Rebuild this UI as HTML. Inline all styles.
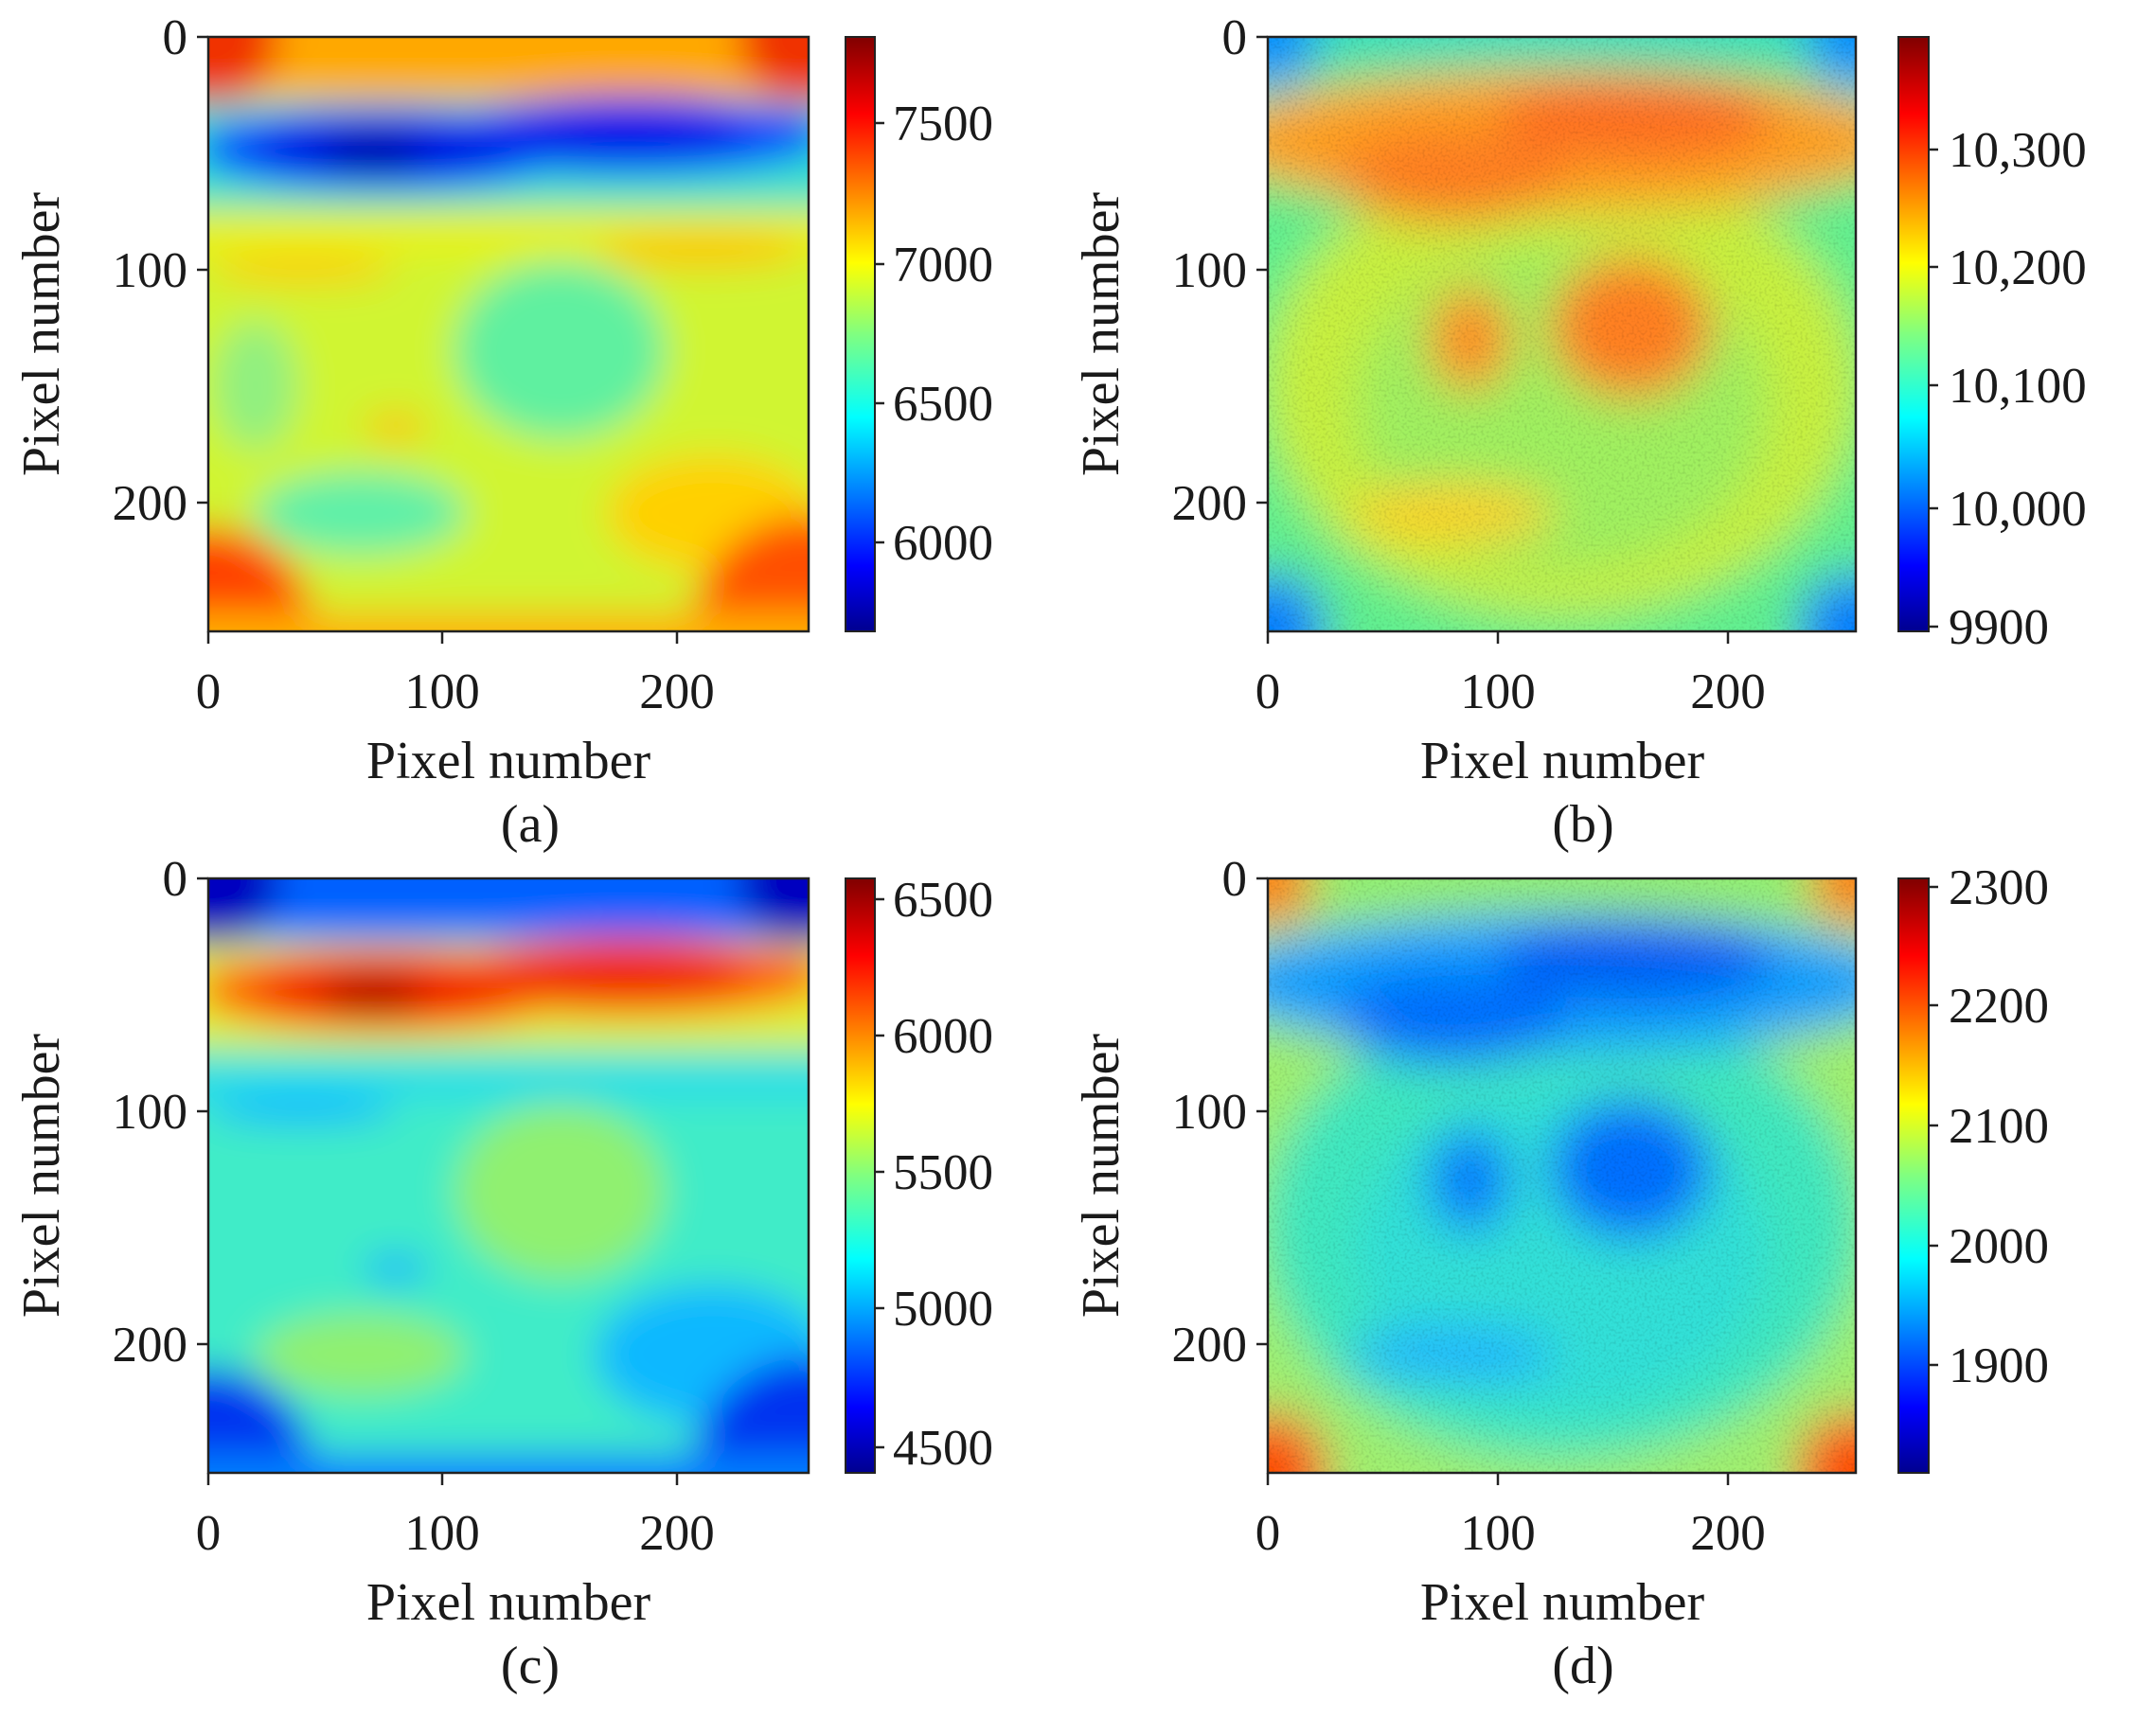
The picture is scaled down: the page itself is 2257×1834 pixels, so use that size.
<!DOCTYPE html>
<html><head><meta charset="utf-8"><style>
html,body{margin:0;padding:0;background:#fff;}
svg text{font-family:"Liberation Serif",serif;fill:#1a1a1a;}
</style></head><body>
<svg width="2257" height="1829" viewBox="0 0 2257 1829" xmlns="http://www.w3.org/2000/svg">
<defs>
<linearGradient id="jet" x1="0" y1="1" x2="0" y2="0">
<stop offset="0" stop-color="#00008f"/><stop offset="0.11" stop-color="#0000ff"/>
<stop offset="0.36" stop-color="#00ffff"/><stop offset="0.5" stop-color="#80ff80"/>
<stop offset="0.62" stop-color="#ffff00"/><stop offset="0.87" stop-color="#ff0000"/>
<stop offset="1" stop-color="#800000"/></linearGradient>
<filter id="bl" x="-20%" y="-20%" width="140%" height="140%"><feGaussianBlur stdDeviation="8"/></filter>
<filter id="bl2" x="-20%" y="-20%" width="140%" height="140%"><feGaussianBlur stdDeviation="10"/></filter>
<filter id="nz"><feTurbulence type="fractalNoise" baseFrequency="0.9" numOctaves="1" seed="3"/><feColorMatrix type="matrix" values="0 0 0 0 0  0 0 0 0 0  0 0 0 0 0  0 0 0 1.2 -0.55"/></filter>
<clipPath id="cp"><rect width="256" height="256"/></clipPath>
</defs>

<!-- Panel a -->
<svg x="220" y="39" width="634" height="628" viewBox="0 0 256 256" preserveAspectRatio="none">
<g clip-path="url(#cp)"><g filter="url(#bl)">
<rect x="-20" y="-20" width="296" height="296" fill="#d0f530"/>
<rect x="-20" y="-20" width="296" height="45" fill="#ffa800"/>
<circle cx="0" cy="0" r="30" fill="#f03000"/><circle cx="256" cy="0" r="30" fill="#f03000"/>
<rect x="-20" y="28" width="296" height="45" fill="#30e0d0"/>
<ellipse cx="75" cy="48" rx="80" ry="18" fill="#0040ff"/>
<ellipse cx="180" cy="42" rx="85" ry="17" fill="#0040ff"/>
<ellipse cx="75" cy="48" rx="55" ry="12" fill="#0000e0"/>
<ellipse cx="175" cy="42" rx="55" ry="11" fill="#0008e8"/>
<ellipse cx="70" cy="50" rx="22" ry="7" fill="#00009a"/>
<rect x="-20" y="80" width="296" height="12" fill="#f0f000"/>
<ellipse cx="40" cy="100" rx="40" ry="6" fill="#ffc800"/>
<ellipse cx="210" cy="92" rx="45" ry="7" fill="#ffc000"/>
<ellipse cx="150" cy="135" rx="45" ry="38" fill="#5ff0a0"/>
<ellipse cx="65" cy="205" rx="45" ry="18" fill="#5ff0a8"/>
<ellipse cx="20" cy="150" rx="18" ry="28" fill="#90f080"/>
<ellipse cx="80" cy="168" rx="14" ry="6" fill="#ffc000"/>
<ellipse cx="215" cy="205" rx="45" ry="25" fill="#ffd000"/>
<circle cx="0" cy="256" r="45" fill="#ff4000"/><circle cx="256" cy="256" r="50" fill="#ff5000"/>
<rect x="-20" y="248" width="296" height="30" fill="#ffb000"/>
</g></g></svg>

<!-- Panel b -->
<svg x="1339" y="39" width="621" height="628" viewBox="0 0 256 256" preserveAspectRatio="none">
<g clip-path="url(#cp)"><g filter="url(#bl2)">
<rect x="-20" y="-20" width="296" height="296" fill="#60f090"/>
<ellipse cx="128" cy="150" rx="130" ry="100" fill="#c8f040"/>
<ellipse cx="128" cy="160" rx="90" ry="70" fill="#a0f060"/>
<rect x="-20" y="-20" width="296" height="30" fill="#30e0c0"/>
<ellipse cx="128" cy="45" rx="150" ry="30" fill="#ffa020"/>
<ellipse cx="80" cy="60" rx="50" ry="20" fill="#ff8020"/>
<ellipse cx="160" cy="35" rx="60" ry="18" fill="#ff7020"/>
<ellipse cx="88" cy="130" rx="18" ry="22" fill="#ff9020"/>
<ellipse cx="158" cy="125" rx="35" ry="30" fill="#ff8020"/>
<ellipse cx="80" cy="205" rx="45" ry="12" fill="#ffd020"/>
<circle cx="0" cy="0" r="22" fill="#0090ff"/><circle cx="256" cy="0" r="22" fill="#0090ff"/>
<circle cx="0" cy="256" r="25" fill="#0080ff"/><circle cx="256" cy="256" r="25" fill="#0080ff"/>
</g><rect width="256" height="256" filter="url(#nz)" opacity="0.25"/></g></svg>

<!-- Panel c -->
<svg x="220" y="928" width="634" height="628" viewBox="0 0 256 256" preserveAspectRatio="none">
<g clip-path="url(#cp)"><g filter="url(#bl)">
<rect x="-20" y="-20" width="296" height="296" fill="#40ecc8"/>
<rect x="-20" y="-20" width="296" height="45" fill="#0060ff"/>
<circle cx="0" cy="0" r="30" fill="#0000c0"/><circle cx="256" cy="0" r="30" fill="#0000c0"/>
<rect x="-20" y="28" width="296" height="45" fill="#e0f030"/>
<ellipse cx="75" cy="48" rx="80" ry="18" fill="#ff6000"/>
<ellipse cx="180" cy="42" rx="85" ry="17" fill="#ff6000"/>
<ellipse cx="75" cy="48" rx="55" ry="12" fill="#f01800"/>
<ellipse cx="175" cy="42" rx="55" ry="11" fill="#f02000"/>
<ellipse cx="70" cy="50" rx="22" ry="7" fill="#a00000"/>
<rect x="-20" y="82" width="296" height="12" fill="#20d8f0"/>
<ellipse cx="40" cy="100" rx="40" ry="6" fill="#10b8ff"/>
<ellipse cx="150" cy="135" rx="45" ry="38" fill="#90f070"/>
<ellipse cx="65" cy="205" rx="45" ry="18" fill="#90f070"/>
<ellipse cx="80" cy="168" rx="14" ry="6" fill="#10b0ff"/>
<ellipse cx="215" cy="205" rx="50" ry="30" fill="#10b8ff"/>
<circle cx="0" cy="256" r="45" fill="#0030f0"/><circle cx="256" cy="256" r="50" fill="#0030f0"/>
<rect x="-20" y="248" width="296" height="30" fill="#0080ff"/>
</g></g></svg>

<!-- Panel d -->
<svg x="1339" y="928" width="621" height="628" viewBox="0 0 256 256" preserveAspectRatio="none">
<g clip-path="url(#cp)"><g filter="url(#bl2)">
<rect x="-20" y="-20" width="296" height="296" fill="#a0f070"/>
<ellipse cx="128" cy="150" rx="130" ry="100" fill="#40e8c0"/>
<ellipse cx="128" cy="160" rx="90" ry="70" fill="#30e0d8"/>
<rect x="-20" y="-20" width="296" height="28" fill="#90f070"/>
<ellipse cx="128" cy="45" rx="150" ry="30" fill="#10a0ff"/>
<ellipse cx="80" cy="60" rx="50" ry="20" fill="#0070ff"/>
<ellipse cx="160" cy="35" rx="60" ry="18" fill="#0060f8"/>
<ellipse cx="88" cy="130" rx="18" ry="22" fill="#0080ff"/>
<ellipse cx="158" cy="125" rx="35" ry="30" fill="#0070ff"/>
<ellipse cx="80" cy="205" rx="45" ry="12" fill="#20b8ff"/>
<circle cx="0" cy="0" r="20" fill="#ff8000"/><circle cx="256" cy="0" r="20" fill="#ff8000"/>
<circle cx="0" cy="256" r="26" fill="#ff5000"/><circle cx="256" cy="256" r="26" fill="#ff5000"/>
</g><rect width="256" height="256" filter="url(#nz)" opacity="0.25"/></g></svg>

<g fill="none" stroke="#222" stroke-width="2.5">
<rect x="220" y="39" width="634" height="628"/><rect x="1339" y="39" width="621" height="628"/>
<rect x="220" y="928" width="634" height="628"/><rect x="1339" y="928" width="621" height="628"/>
<path d="M208 39H220M208 285H220M208 531H220M220 667V680M467 667V680M715 667V680"/>
<path d="M1327 39H1339M1327 285H1339M1327 531H1339M1339 667V680M1582 667V680M1825 667V680"/>
<path d="M208 928H220M208 1174H220M208 1420H220M220 1556V1569M467 1556V1569M715 1556V1569"/>
<path d="M1327 928H1339M1327 1174H1339M1327 1420H1339M1339 1556V1569M1582 1556V1569M1825 1556V1569"/>
<path d="M924 130H934M924 279H934M924 426H934M924 573H934"/>
<path d="M2037 158H2047M2037 282H2047M2037 407H2047M2037 537H2047M2037 662H2047"/>
<path d="M924 950H934M924 1094H934M924 1238H934M924 1382H934M924 1529H934"/>
<path d="M2037 937H2047M2037 1062H2047M2037 1189H2047M2037 1316H2047M2037 1442H2047"/>
</g>
<rect x="893" y="39" width="31" height="628" fill="url(#jet)" stroke="#222" stroke-width="2"/>
<rect x="2005" y="39" width="32" height="628" fill="url(#jet)" stroke="#222" stroke-width="2"/>
<rect x="893" y="928" width="31" height="628" fill="url(#jet)" stroke="#222" stroke-width="2"/>
<rect x="2005" y="928" width="32" height="628" fill="url(#jet)" stroke="#222" stroke-width="2"/>

<g font-size="53">
<g text-anchor="end">
<text x="198" y="57">0</text><text x="198" y="303">100</text><text x="198" y="549">200</text>
<text x="1317" y="57">0</text><text x="1317" y="303">100</text><text x="1317" y="549">200</text>
<text x="198" y="946">0</text><text x="198" y="1192">100</text><text x="198" y="1438">200</text>
<text x="1317" y="946">0</text><text x="1317" y="1192">100</text><text x="1317" y="1438">200</text>
</g>
<g text-anchor="middle">
<text x="220" y="748">0</text><text x="467" y="748">100</text><text x="715" y="748">200</text>
<text x="1339" y="748">0</text><text x="1582" y="748">100</text><text x="1825" y="748">200</text>
<text x="220" y="1637">0</text><text x="467" y="1637">100</text><text x="715" y="1637">200</text>
<text x="1339" y="1637">0</text><text x="1582" y="1637">100</text><text x="1825" y="1637">200</text>
<g font-size="56">
<text x="537" y="822">Pixel number</text><text x="1650" y="822">Pixel number</text>
<text x="537" y="1711">Pixel number</text><text x="1650" y="1711">Pixel number</text>
<text x="560" y="889">(a)</text><text x="1672" y="889">(b)</text>
<text x="560" y="1778">(c)</text><text x="1672" y="1778">(d)</text>
<text transform="translate(62,353) rotate(-90)">Pixel number</text>
<text transform="translate(1181,353) rotate(-90)">Pixel number</text>
<text transform="translate(62,1242) rotate(-90)">Pixel number</text>
<text transform="translate(1181,1242) rotate(-90)">Pixel number</text>
</g>
</g>
<g>
<text x="943" y="148">7500</text><text x="943" y="297">7000</text><text x="943" y="444">6500</text><text x="943" y="591">6000</text>
<text x="2058" y="176">10,300</text><text x="2058" y="300">10,200</text><text x="2058" y="425">10,100</text><text x="2058" y="555">10,000</text><text x="2058" y="680">9900</text>
<text x="943" y="968">6500</text><text x="943" y="1112">6000</text><text x="943" y="1256">5500</text><text x="943" y="1400">5000</text><text x="943" y="1547">4500</text>
<text x="2058" y="955">2300</text><text x="2058" y="1080">2200</text><text x="2058" y="1207">2100</text><text x="2058" y="1334">2000</text><text x="2058" y="1460">1900</text>
</g>
</g>
</svg>
</body></html>
